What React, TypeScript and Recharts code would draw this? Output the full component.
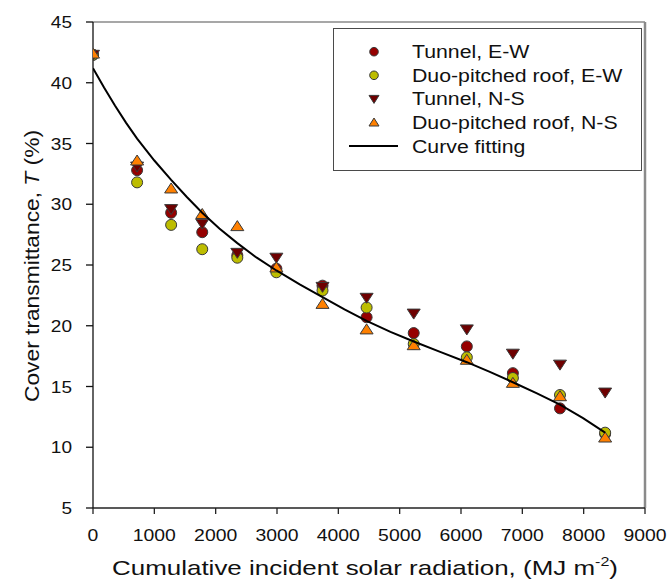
import React from 'react';
import { ScatterChart, Scatter, XAxis, YAxis, Legend, Label, ReferenceLine } from 'recharts';

// Cumulative incident solar radiation (MJ m-2)
const radiation = [0, 719, 1274, 1781, 2353, 2990, 3742, 4461, 5229, 6095, 6846, 7614, 8350];
// Cover transmittance T (%)
const tunnelEW = [42.3, 32.8, 29.3, 27.7, 25.8, 24.7, 23.3, 20.7, 19.4, 18.3, 16.1, 13.2, 11.1];
const duoEW = [42.3, 31.8, 28.3, 26.3, 25.6, 24.4, 22.9, 21.5, 18.5, 17.4, 15.7, 14.3, 11.2];
const tunnelNS = [42.3, 33.1, 29.6, 28.4, 26.0, 25.6, 23.2, 22.3, 21.0, 19.7, 17.7, 16.8, 14.5];
const duoNS = [42.4, 33.6, 31.3, 29.2, 28.2, 24.8, 21.8, 19.7, 18.4, 17.2, 15.3, 14.2, 10.8];

// Fitted curve
const fitX = [0, 180, 360, 540, 719, 1000, 1274, 1530, 1780, 2060, 2353, 2670, 2990, 3370, 3742, 4100, 4461, 4850, 5229, 5660, 6095, 6470, 6846, 7230, 7614, 7990, 8350];
const fitT = [41.2, 39.6, 38.1, 36.7, 35.4, 33.6, 32.0, 30.6, 29.3, 28.0, 26.8, 25.6, 24.55, 23.4, 22.35, 21.35, 20.4, 19.5, 18.7, 17.85, 17.0, 16.2, 15.35, 14.45, 13.5, 12.4, 11.2];

const xTicks = [0, 1000, 2000, 3000, 4000, 5000, 6000, 7000, 8000, 9000];
const yTicks = [5, 10, 15, 20, 25, 30, 35, 40, 45];

const seriesNames = ['Tunnel, E-W', 'Duo-pitched roof, E-W', 'Tunnel, N-S', 'Duo-pitched roof, N-S', 'Curve fitting'];

const FONT = '"Liberation Sans", Arial, Helvetica, sans-serif';
const C_TEW = '#960000';
const C_DEW = '#BDBD00';
const C_TNS = '#6E0000';
const C_DNS = '#FF8000';
const OUTLINE = '#3a3a3a';

const toPts = (ys: number[], xs: number[]) => xs.map((x, i) => ({ x, y: ys[i] }));

const circleShape = (fill: string) => (props: any) => (
  <circle cx={props.cx} cy={props.cy} r={5.5} fill={fill} stroke={OUTLINE} strokeWidth={1} />
);
const triUpShape = (fill: string) => (props: any) => {
  const { cx, cy } = props;
  return <path d={`M${cx},${cy - 5.5}L${cx + 6.5},${cy + 4.5}L${cx - 6.5},${cy + 4.5}Z`} fill={fill} stroke={OUTLINE} strokeWidth={1} />;
};
const triDownShape = (fill: string) => (props: any) => {
  const { cx, cy } = props;
  return <path d={`M${cx},${cy + 5.5}L${cx + 6.5},${cy - 4.5}L${cx - 6.5},${cy - 4.5}Z`} fill={fill} stroke={OUTLINE} strokeWidth={1} />;
};
const noShape = () => <g />;

const XTick = (props: any) => {
  const { x, y, payload } = props;
  return (
    <text transform={`translate(${x},${y + 27}) scale(1.14,1)`} textAnchor="middle" fontSize={17} fontFamily={FONT} fill="#111">
      {payload.value}
    </text>
  );
};
const YTick = (props: any) => {
  const { x, y, payload } = props;
  return (
    <text transform={`translate(${x - 14},${y + 6}) scale(1.12,1)`} textAnchor="end" fontSize={17} fontFamily={FONT} fill="#111">
      {payload.value}
    </text>
  );
};

const XTitle = (props: any) => {
  const vb = props.viewBox || { x: 93, y: 508, width: 552, height: 75 };
  const cx = vb.x + vb.width / 2 - 4;
  return (
    <text x={cx} y={vb.y + 67} textAnchor="middle" fontSize={21} fontFamily={FONT} fill="#111" textLength={506} lengthAdjust="spacingAndGlyphs">
      Cumulative incident solar radiation, (MJ m
      <tspan dy={-9} fontSize={13}>-2</tspan>
      <tspan dy={9} fontSize={21}>)</tspan>
    </text>
  );
};
const YTitle = (props: any) => {
  const vb = props.viewBox || { x: 0, y: 22, width: 93, height: 486 };
  const cy = vb.y + vb.height / 2 + 1;
  return (
    <text transform={`translate(38.5,${cy}) rotate(-90)`} textAnchor="middle" fontSize={21} fontFamily={FONT} fill="#111" textLength={272} lengthAdjust="spacingAndGlyphs">
      Cover transmittance, <tspan fontStyle="italic">T</tspan> (%)
    </text>
  );
};

const LegendBox = () => {
  const rows = [23.7, 47.3, 70.9, 94.5, 118.1];
  const mx = 41;
  const tx = 79;
  return (
    <svg width={309} height={144} style={{ display: 'block' }}>
      <rect x={0.5} y={0.5} width={308} height={142} fill="#fff" stroke="#4a4a4a" strokeWidth={1} />
      <circle cx={mx} cy={rows[0]} r={4.3} fill={C_TEW} stroke={OUTLINE} strokeWidth={1} />
      <circle cx={mx} cy={rows[1]} r={4.3} fill={C_DEW} stroke={OUTLINE} strokeWidth={1} />
      <path d={`M${mx},${rows[2] + 4.5}L${mx + 5},${rows[2] - 3.5}L${mx - 5},${rows[2] - 3.5}Z`} fill={C_TNS} stroke={OUTLINE} strokeWidth={1} />
      <path d={`M${mx},${rows[3] - 4.5}L${mx + 5},${rows[3] + 3.5}L${mx - 5},${rows[3] + 3.5}Z`} fill={C_DNS} stroke={OUTLINE} strokeWidth={1} />
      <line x1={16} x2={65} y1={rows[4]} y2={rows[4]} stroke="#000" strokeWidth={2} />
      {seriesNames.map((n, i) => (
        <text key={n} transform={`translate(${tx},${rows[i] + 6.5}) scale(1.15,1)`} fontSize={18.5} fontFamily={FONT} fill="#111">
          {n}
        </text>
      ))}
    </svg>
  );
};

export default function App() {
  return (
    <div style={{ position: 'absolute', left: 0, top: 0, width: 668, height: 583, background: '#fff' }}>
      <ScatterChart width={668} height={583} margin={{ top: 22, right: 23, left: 0, bottom: 0 }}>
        <XAxis
          type="number"
          dataKey="x"
          domain={[0, 9000]}
          ticks={xTicks}
          interval={0}
          height={75}
          tickSize={6}
          tickMargin={0}
          tick={<XTick />}
          axisLine={{ stroke: '#222', strokeWidth: 1.3 }}
          tickLine={{ stroke: '#222', strokeWidth: 1.3 }}
          allowDataOverflow
        >
          <Label content={<XTitle />} />
        </XAxis>
        <YAxis
          type="number"
          dataKey="y"
          domain={[5, 45]}
          ticks={yTicks}
          interval={0}
          width={93}
          tickSize={7}
          tickMargin={0}
          tick={<YTick />}
          axisLine={{ stroke: '#111', strokeWidth: 1.3 }}
          tickLine={{ stroke: '#111', strokeWidth: 1.3 }}
          allowDataOverflow
        >
          <Label content={<YTitle />} />
        </YAxis>
        <ReferenceLine y={45} stroke="#8a8a8a" strokeWidth={1.5} />
        <ReferenceLine x={9000} stroke="#8a8a8a" strokeWidth={2.5} />
        <Legend
          layout="vertical"
          verticalAlign="middle"
          align="center"
          content={<LegendBox />}
          wrapperStyle={{ position: 'absolute', left: 333, top: 28, width: 309, height: 144 }}
        />
        <Scatter name={seriesNames[0]} data={toPts(tunnelEW, radiation)} shape={circleShape(C_TEW)} isAnimationActive={false} />
        <Scatter name={seriesNames[1]} data={toPts(duoEW, radiation)} shape={circleShape(C_DEW)} isAnimationActive={false} />
        <Scatter name={seriesNames[2]} data={toPts(tunnelNS, radiation)} shape={triDownShape(C_TNS)} isAnimationActive={false} />
        <Scatter name={seriesNames[3]} data={toPts(duoNS, radiation)} shape={triUpShape(C_DNS)} isAnimationActive={false} />
        <Scatter
          name={seriesNames[4]}
          data={toPts(fitT, fitX)}
          shape={noShape}
          line={{ stroke: '#000', strokeWidth: 2 }}
          lineType="joint"
          isAnimationActive={false}
        />
      </ScatterChart>
    </div>
  );
}
